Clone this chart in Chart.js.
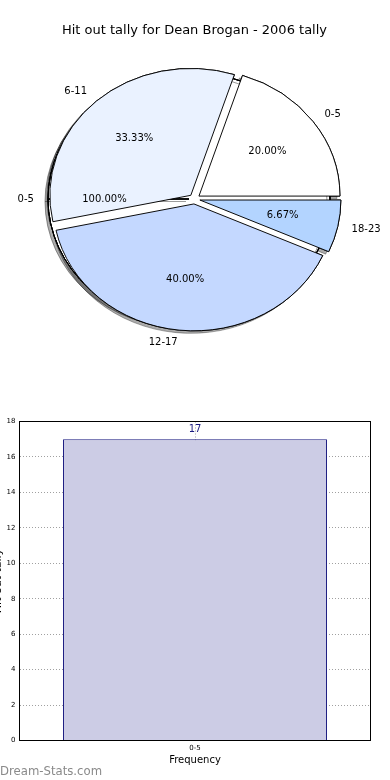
<!DOCTYPE html>
<html><head><meta charset="utf-8">
<script src="https://cdn.jsdelivr.net/npm/chart.js@4/dist/chart.umd.min.js"></script>
<style>
html,body{margin:0;padding:0;background:#fff;width:390px;height:780px;overflow:hidden;position:relative}
canvas{position:absolute}
#pA,#pB,#pC{left:0;top:0}
#bar{left:-12px;top:395px}
#wm{position:absolute;left:0;top:766px;font-family:'DejaVu Sans';font-size:11.7px;line-height:11.7px;color:#8a8a8a;white-space:nowrap}
</style></head><body>
<canvas id="pA" width="390" height="380"></canvas>
<canvas id="pB" width="390" height="380"></canvas>
<canvas id="pC" width="390" height="380"></canvas>
<canvas id="bar" width="402" height="385"></canvas>
<div id="wm">Dream-Stats.com</div>
<script>
// ---- data ----
const chartTitle = 'Hit out tally for Dean Brogan - 2006 tally';
const pieLabels = ['0-5', '6-11', '12-17', '18-23'];
const pieValues = [3, 5, 6, 1];
const totalLabels = ['0-5'];
const totalValues = [17];
const barCategories = ['0-5'];
const barValues = [17];
const yAxisTitle = 'Hit out tally';
const xAxisTitle = 'Frequency';

// ---- styles ----
const pieColors = ['#ffffff', '#eaf2ff', '#c4d8ff', '#b3d4ff'];
const SQUASH = 0.9;
Chart.defaults.font.family = "'DejaVu Sans'";

// matplotlib draws counter-clockwise from 3 o'clock; Chart.js clockwise -> reverse order
const mainLabels = pieLabels.slice().reverse();
const mainValues = pieValues.slice().reverse();
const mainColors = pieColors.slice().reverse();

const explode = {
  id: 'explode',
  afterDatasetsUpdate(chart, args, opts) {
    const d = opts.distance || 0;
    chart.getDatasetMeta(0).data.forEach(a => {
      const m = (a.startAngle + a.endAngle) / 2;
      a.x += Math.cos(m) * d;
      a.y += Math.sin(m) * d;
    });
  }
};
const squash = {
  id: 'squash',
  beforeDatasetsDraw(chart, args, opts) {
    const ctx = chart.ctx, a = chart.chartArea;
    const cx = (a.left + a.right) / 2, cy = (a.top + a.bottom) / 2;
    ctx.save();
    ctx.translate(cx, cy); ctx.scale(1, SQUASH); ctx.translate(-cx, -cy);
    if (opts.shadow) {
      ctx.shadowColor = opts.shadow;
      ctx.shadowOffsetX = -3;
      ctx.shadowOffsetY = 2.5;
      ctx.shadowBlur = 0.5;
    }
  },
  afterDatasetsDraw(chart) { chart.ctx.restore(); }
};

function drawPieLabels(ctx, chart) {
  const a = chart.chartArea, cy = (a.top + a.bottom) / 2;
  const meta = chart.getDatasetMeta(0);
  const vals = chart.data.datasets[0].data;
  const total = vals.reduce((s, v) => s + v, 0);
  const sy = y => cy + (y - cy) * SQUASH;
  ctx.save();
  ctx.font = "10px 'DejaVu Sans'";
  ctx.fillStyle = '#000';
  ctx.textBaseline = 'middle';
  meta.data.forEach((arc, i) => {
    const m = (arc.startAngle + arc.endAngle) / 2, r = arc.outerRadius;
    const c = Math.cos(m), s = Math.sin(m);
    ctx.textAlign = c > 0 ? 'left' : 'right';
    ctx.fillText(chart.data.labels[i], arc.x + 1.1 * r * c, sy(arc.y + 1.1 * r * s));
    ctx.textAlign = 'center';
    ctx.fillText((vals[i] / total * 100).toFixed(2) + '%', arc.x + 0.6 * r * c, sy(arc.y + 0.6 * r * s));
  });
  ctx.restore();
}

function pieConfig(labels, values, colors, rotation, circumference, titleColor, shadow, extraPlugins) {
  return {
    type: 'pie',
    data: { labels: labels, datasets: [{ data: values, backgroundColor: colors, borderColor: '#000', borderWidth: 1, clip: false }] },
    options: {
      responsive: false, animation: false, events: [], devicePixelRatio: 1,
      radius: 141, rotation: rotation, circumference: circumference,
      layout: { padding: { left: 0, right: 1, top: 0, bottom: 30.1 } },
      plugins: {
        legend: { display: false }, tooltip: { enabled: false },
        title: { display: true, text: chartTitle, color: titleColor, font: { size: 13, weight: 'normal', lineHeight: 1.2 }, padding: { top: 22.5, bottom: 10 } },
        explode: { distance: 5.5 },
        squash: { shadow: shadow }
      }
    },
    plugins: [explode, squash].concat(extraPlugins || [])
  };
}

// layer A: main pie shadows
new Chart(document.getElementById('pA'), pieConfig(mainLabels, mainValues, mainColors, 90, 360, 'rgba(0,0,0,0)', 'rgba(0,0,0,0.33)'));
// layer B: total pie (single slice) with shadow
const totalChart = new Chart(document.getElementById('pB'), pieConfig(totalLabels, totalValues, ['#ffffff'], 270, 720, 'rgba(0,0,0,0)', 'rgba(0,0,0,0.12)'));
// layer C: main pie + all labels
const labelPlugin = { id: 'pieLabels', afterDraw(chart) { drawPieLabels(chart.ctx, totalChart); drawPieLabels(chart.ctx, chart); } };
new Chart(document.getElementById('pC'), pieConfig(mainLabels, mainValues, mainColors, 90, 360, '#000', null, [labelPlugin]));

// ---- bar chart ----
const barValue = {
  id: 'barValue',
  afterDatasetsDraw(chart) {
    const ctx = chart.ctx;
    ctx.save();
    ctx.font = "10px 'DejaVu Sans'"; ctx.fillStyle = '#1a1a80';
    ctx.textAlign = 'center'; ctx.textBaseline = 'middle';
    chart.getDatasetMeta(0).data.forEach((b, i) => ctx.fillText(String(barValues[i]), b.x, b.y - 10));
    ctx.restore();
  }
};
const frame = {
  id: 'frame',
  afterDraw(chart) {
    const a = chart.chartArea, ctx = chart.ctx;
    ctx.save(); ctx.strokeStyle = '#000'; ctx.lineWidth = 1;
    ctx.strokeRect(a.left, a.top, a.right - a.left, a.bottom - a.top);
    ctx.restore();
  }
};
new Chart(document.getElementById('bar'), {
  type: 'bar',
  data: { labels: barCategories, datasets: [{ data: barValues, backgroundColor: '#cccce5', borderColor: '#1a1a80', borderWidth: 1, barPercentage: 0.752, categoryPercentage: 1 }] },
  options: {
    responsive: false, animation: false, events: [], devicePixelRatio: 1,
    layout: { padding: { left: 0, right: 19.5, top: 26.5, bottom: 0 } },
    plugins: { legend: { display: false }, tooltip: { enabled: false } },
    scales: {
      x: {
        z: 1,
        grid: { offset: false, color: '#a0a0a0', lineWidth: 1, drawTicks: false },
        border: { display: true, color: '#000', width: 1, dash: [1, 2] },
        ticks: { font: { size: 7 }, color: '#000', padding: 3 },
        title: { display: true, text: xAxisTitle, color: '#000', font: { size: 10 }, padding: { top: 0, bottom: 13.3 } },
        afterFit(s) { s.height = 39.5; }
      },
      y: {
        z: 1, min: 0, max: 18,
        grid: { color: '#a0a0a0', lineWidth: 1, drawTicks: false },
        border: { display: true, color: '#000', width: 1, dash: [1, 2] },
        ticks: { stepSize: 2, font: { size: 7 }, color: '#000', padding: 4 },
        title: { display: true, text: yAxisTitle, color: '#000', font: { size: 11 }, padding: { top: 4, bottom: 0 } },
        afterFit(s) { s.width = 31.5; }
      }
    }
  },
  plugins: [barValue, frame]
});
</script>
</body></html>
